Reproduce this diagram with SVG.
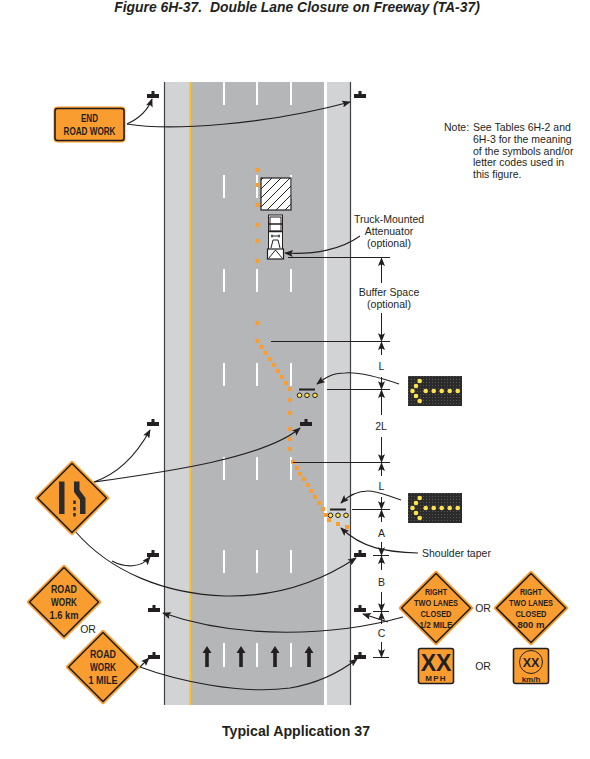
<svg xmlns="http://www.w3.org/2000/svg" width="590" height="759" viewBox="0 0 590 759">
<style>
text{font-family:"Liberation Sans",Arial,sans-serif;fill:#231f20}
.t{font-size:10.5px}
.c{text-anchor:middle}
.s{font-size:11.5px;font-weight:bold;text-anchor:middle;fill:#231f20}
.r{font-size:9.5px;font-weight:bold;text-anchor:middle;fill:#231f20}
.sign{fill:#f99d31;stroke:#231f20;stroke-width:1.6;stroke-linejoin:round}
.out{fill:#f99d31;stroke:#f99d31;stroke-width:3.4;stroke-linejoin:round}
.con{fill:none;stroke:#231f20;stroke-width:1.1}
.dim{stroke:#231f20;stroke-width:1;fill:none}
.dash{stroke:#fff;stroke-width:2;fill:none}
.cone{fill:#f99d31}
.led{fill:#fde34e;stroke:#231f20;stroke-width:1}
.lamp{fill:#fde34e}
</style>
<defs>
<marker id="a" viewBox="0 0 10 8" refX="9" refY="4" markerWidth="9" markerHeight="7" orient="auto" markerUnits="userSpaceOnUse"><path d="M0,0L10,4L0,8L2,4Z" fill="#231f20"/></marker>
<g id="post"><path d="M-1.5,-4H1.5V-1H6V3H-6V-1H-1.5Z" fill="#231f20"/></g>
<g id="dia"><path class="out" d="M0,-35.5L35.5,0L0,35.5L-35.5,0Z"/><path class="sign" d="M0,-34.5L34.5,0L0,34.5L-34.5,0Z"/></g>
<rect id="cone" x="-2" y="-2" width="4" height="4" class="cone"/>
<pattern id="dots" width="3" height="3" patternUnits="userSpaceOnUse"><rect width="1" height="1" fill="#555"/></pattern>
<g id="panel"><rect x="0" y="0" width="54" height="30" fill="#2b2b2b"/><rect x="0" y="0" width="54" height="30" fill="url(#dots)"/>
<g class="lamp"><circle cx="4.5" cy="15" r="2.3"/><circle cx="8" cy="10" r="2.3"/><circle cx="11.7" cy="5" r="2.3"/><circle cx="8" cy="20" r="2.3"/><circle cx="11.7" cy="25" r="2.3"/><circle cx="17.7" cy="15" r="2.3"/><circle cx="25.7" cy="15" r="2.3"/><circle cx="33.7" cy="15" r="2.3"/><circle cx="41.7" cy="15" r="2.3"/><circle cx="49.7" cy="15" r="2.3"/></g></g>
<pattern id="hatch" width="9" height="9" patternUnits="userSpaceOnUse"><path d="M-1,10L10,-1M-1,1L1,-1M8,10L10,8" stroke="#231f20" stroke-width="1" fill="none"/></pattern>
<g id="arr"><path d="M0,-10.5L4.5,-3.5H1.8V10.5H-1.8V-3.5H-4.5Z" fill="#231f20"/></g>
</defs>
<rect width="590" height="759" fill="#fff"/>

<text x="297" y="12" class="c" style="font-size:13.9px;font-weight:bold;font-style:italic" xml:space="preserve">Figure 6H-37.  Double Lane Closure on Freeway (TA-37)</text>

<g id="road">
<rect x="165" y="82" width="24" height="623" fill="#d1d3d4"/>
<rect x="191" y="82" width="133" height="623" fill="#b5b6b7"/>
<rect x="327" y="82" width="23" height="623" fill="#d1d3d4"/>
<rect x="189" y="82" width="2" height="623" fill="#fdc52f"/>
<path d="M164.5,82V705M350.5,82V705" stroke="#414042" stroke-width="1.2" fill="none"/>
<path class="dash" d="M224,82V105M257,82V105M291,82V105M224,175V198M257,175V198M291,175V198M224,269V292M257,269V292M291,269V292M224,363V386M257,363V386M291,363V386M224,457V480M257,457V480M291,457V480M224,550V573M257,550V573M291,550V573M224,643V667M257,643V667M291,643V667"/>
<g id="lane-arrows"><use href="#arr" x="207" y="656.5"/><use href="#arr" x="241" y="656.5"/><use href="#arr" x="275" y="656.5"/><use href="#arr" x="309" y="656.5"/></g>
</g>

<g id="work-area"><rect x="261" y="178" width="30" height="32" fill="#fff"/><rect x="261" y="178" width="30" height="32" fill="url(#hatch)" stroke="#231f20" stroke-width="1.2"/></g>

<g id="truck" fill="none" stroke="#231f20" stroke-width="1">
<rect x="268.5" y="215" width="14" height="37" fill="#fff"/>
<rect x="270" y="217" width="11" height="14" fill="#fff"/>
<path d="M268.5,224H282.5M268.5,231.5H282.5" stroke-width="1.4"/>
<path d="M271,236H280M272,234.5V237.5M279,234.5V237.5M271,248L273,240H278L280,248"/>
<rect x="267.5" y="249" width="16" height="10" fill="#fff" stroke-width="1.2"/>
<path d="M268.5,258.5L275.5,250L282.5,258.5"/>
</g>

<g id="cones">
<use href="#cone" x="257.5" y="170"/><use href="#cone" x="257.5" y="185"/><use href="#cone" x="257.5" y="205"/><use href="#cone" x="257.5" y="225"/><use href="#cone" x="257.5" y="241"/><use href="#cone" x="257.5" y="261"/>
<use href="#cone" x="257.5" y="323"/><use href="#cone" x="257.5" y="341"/><use href="#cone" x="261.5" y="347"/><use href="#cone" x="265.5" y="353"/><use href="#cone" x="269.5" y="359"/><use href="#cone" x="274" y="365"/><use href="#cone" x="278" y="371"/><use href="#cone" x="282" y="377"/><use href="#cone" x="286" y="383"/><use href="#cone" x="290" y="389"/>
<use href="#cone" x="290" y="400"/><use href="#cone" x="290" y="413"/><use href="#cone" x="290" y="429"/><use href="#cone" x="290" y="439"/><use href="#cone" x="290" y="449"/>
<use href="#cone" x="293" y="462"/><use href="#cone" x="297" y="468"/><use href="#cone" x="300" y="474"/><use href="#cone" x="304" y="479"/><use href="#cone" x="308" y="485"/><use href="#cone" x="311" y="491"/><use href="#cone" x="315" y="497"/><use href="#cone" x="319" y="503"/><use href="#cone" x="323" y="509"/><use href="#cone" x="326" y="515"/><use href="#cone" x="329" y="520"/><use href="#cone" x="338" y="524"/><use href="#cone" x="347" y="527"/>
</g>

<g id="arrow-board-1"><path d="M299,389.5H315" stroke="#231f20" stroke-width="2"/><circle class="led" cx="299.5" cy="395.3" r="2.3"/><circle class="led" cx="307" cy="395.3" r="2.3"/><circle class="led" cx="315" cy="395.3" r="2.3"/></g>
<g id="arrow-board-2"><path d="M330,509.5H346" stroke="#231f20" stroke-width="2"/><circle class="led" cx="330.5" cy="515.3" r="2.3"/><circle class="led" cx="338" cy="515.3" r="2.3"/><circle class="led" cx="346" cy="515.3" r="2.3"/></g>

<g id="posts">
<use href="#post" x="153" y="95"/><use href="#post" x="360" y="95"/>
<use href="#post" x="153" y="423"/><use href="#post" x="306" y="423"/>
<use href="#post" x="153" y="554"/><use href="#post" x="360" y="554"/>
<use href="#post" x="154" y="609"/><use href="#post" x="360" y="609"/>
<use href="#post" x="154" y="656"/><use href="#post" x="360" y="656"/>
</g>

<g id="connectors">
<path class="con" marker-end="url(#a)" d="M127,124C140,118 148,110 152,99"/>
<path class="con" marker-end="url(#a)" d="M127,124C170,131 265,125 350,102"/>
<path class="con" marker-end="url(#a)" d="M360,236C342,249 315,255 285,253"/>
<path class="con" marker-end="url(#a)" d="M399,384C375,376 355,372 345,373C332,373 325,378 317,384"/>
<path class="con" marker-end="url(#a)" d="M401,500C385,495 378,491 368,491C357,491 348,496 341,503"/>
<path class="con" marker-end="url(#a)" d="M418,553C385,552 362,548 341,528"/>
<path class="con" marker-end="url(#a)" d="M94,482C120,473 138,452 150,430"/>
<path class="con" marker-end="url(#a)" d="M94,482C165,472 265,458 300,428"/>
<path class="con" marker-end="url(#a)" d="M75,531C110,572 165,594 225,596C275,597 320,582 356,558"/>
<path class="con" marker-end="url(#a)" d="M112,561C125,568 141,568 150,557"/>
<path class="con" marker-end="url(#a)" d="M403,617C335,636 240,640 163,613"/>
<path class="con" marker-end="url(#a)" d="M388,622L363,614"/>
<path class="con" marker-end="url(#a)" d="M140,667L149,658"/>
<path class="con" marker-end="url(#a)" d="M140,667C175,680 240,695 290,688C320,683 340,672 357,659"/>
</g>

<g id="dimensions">
<path class="dim" d="M288,257.5H390M271,341.5H390M327,389.5H390M293,462.5H390M352,509.5H390M373,555.5H389M373,611.5H389M373,657.5H389"/>
<path class="dim" marker-end="url(#a)" d="M381.5,283V258"/>
<path class="dim" marker-end="url(#a)" d="M381.5,313V341"/>
<path class="dim" marker-end="url(#a)" d="M381.5,355V342"/>
<path class="dim" marker-end="url(#a)" d="M381.5,377V389"/>
<path class="dim" marker-end="url(#a)" d="M381.5,415V390"/>
<path class="dim" marker-end="url(#a)" d="M381.5,437V462"/>
<path class="dim" marker-end="url(#a)" d="M381.5,476V463"/>
<path class="dim" marker-end="url(#a)" d="M381.5,497V509"/>
<path class="dim" marker-end="url(#a)" d="M381.5,522V510"/>
<path class="dim" marker-end="url(#a)" d="M381.5,542V555"/>
<path class="dim" marker-end="url(#a)" d="M381.5,570V556"/>
<path class="dim" marker-end="url(#a)" d="M381.5,592V611"/>
<path class="dim" marker-end="url(#a)" d="M381.5,624V612"/>
<path class="dim" marker-end="url(#a)" d="M381.5,642V657"/>
</g>

<g id="dim-labels">
<text x="389" y="296" class="t c">Buffer Space</text><text x="389" y="308" class="t c">(optional)</text>
<text x="381.5" y="370" class="t c">L</text><text x="381" y="430" class="t c">2L</text><text x="381.5" y="490" class="t c">L</text>
<text x="381.5" y="537" class="t c">A</text><text x="381.5" y="586" class="t c">B</text><text x="381.5" y="637" class="t c">C</text>
<text x="389" y="223" class="t c">Truck-Mounted</text><text x="389" y="235" class="t c">Attenuator</text><text x="389" y="247" class="t c">(optional)</text>
<text x="422" y="557" class="t">Shoulder taper</text>
</g>

<g id="note">
<text x="444" y="131" class="t">Note:</text><text x="473" y="131" class="t">See Tables 6H-2 and</text>
<text x="473" y="143" class="t">6H-3 for the meaning</text><text x="473" y="155" class="t">of the symbols and/or</text>
<text x="473" y="166" class="t">letter codes used in</text><text x="473" y="178" class="t">this figure.</text>
</g>

<g id="sign-end"><rect x="54.5" y="107.5" width="70" height="34" rx="3" fill="#f99d31" stroke="#f99d31" stroke-width="2"/><rect x="55" y="108.5" width="69" height="32" rx="2.5" class="sign"/>
<text x="89.5" y="122" class="s" textLength="17" lengthAdjust="spacingAndGlyphs">END</text><text x="89.5" y="135" class="s" textLength="52" lengthAdjust="spacingAndGlyphs">ROAD WORK</text></g>

<g id="panel-1"><use href="#panel" x="408" y="376"/></g>
<g id="panel-2"><use href="#panel" x="408" y="493"/></g>

<g id="sign-merge"><use href="#dia" x="72" y="498"/>
<path d="M59,481.5H64.5V514H59Z" fill="#2b2b2b"/><path d="M74,481.5H79.5V490L85.5,498V514H80V500L74,492Z" fill="#2b2b2b"/>
<path d="M74.5,500.5V504M74.5,507V510.5M74.5,513V516.5" stroke="#2b2b2b" stroke-width="2.5" fill="none"/></g>

<g id="sign-16km"><use href="#dia" x="64" y="602"/><text x="64" y="592.5" class="s" textLength="26" lengthAdjust="spacingAndGlyphs">ROAD</text><text x="64" y="605.5" class="s" textLength="26" lengthAdjust="spacingAndGlyphs">WORK</text><text x="64" y="618.5" class="s" textLength="29" lengthAdjust="spacingAndGlyphs">1.6 km</text></g>
<text id="or-left" x="88" y="633" class="t c">OR</text>
<g id="sign-1mile"><use href="#dia" x="103" y="667"/><text x="103" y="658" class="s" textLength="26" lengthAdjust="spacingAndGlyphs">ROAD</text><text x="103" y="671" class="s" textLength="26" lengthAdjust="spacingAndGlyphs">WORK</text><text x="103" y="684" class="s" textLength="29" lengthAdjust="spacingAndGlyphs">1 MILE</text></g>

<g id="sign-half"><use href="#dia" x="436" y="608"/><text x="436" y="595" class="r" textLength="22" lengthAdjust="spacingAndGlyphs">RIGHT</text><text x="436" y="606" class="r" textLength="44" lengthAdjust="spacingAndGlyphs">TWO LANES</text><text x="436" y="617" class="r" textLength="31" lengthAdjust="spacingAndGlyphs">CLOSED</text><text x="436" y="628" class="r" textLength="33" lengthAdjust="spacingAndGlyphs">1/2 MILE</text></g>
<text id="or-right1" x="483" y="612" class="t c">OR</text>
<g id="sign-800"><use href="#dia" x="531" y="608"/><text x="531" y="595" class="r" textLength="22" lengthAdjust="spacingAndGlyphs">RIGHT</text><text x="531" y="606" class="r" textLength="44" lengthAdjust="spacingAndGlyphs">TWO LANES</text><text x="531" y="617" class="r" textLength="31" lengthAdjust="spacingAndGlyphs">CLOSED</text><text x="531" y="628" class="r" textLength="27" lengthAdjust="spacingAndGlyphs">800 m</text></g>

<g id="sign-mph"><rect x="418.5" y="648.5" width="35" height="35" rx="2" class="sign"/><text x="436" y="670.5" style="font-size:23px;font-weight:bold" class="c">XX</text><text x="436" y="681" style="font-size:8px;font-weight:bold;letter-spacing:1.2px" class="c">MPH</text></g>
<text id="or-right2" x="483" y="670" class="t c">OR</text>
<g id="sign-kmh"><rect x="513.5" y="648.5" width="35" height="35" rx="2" class="sign"/><circle cx="531" cy="662" r="11.5" fill="none" stroke="#231f20" stroke-width="1"/><text x="531" y="666.5" style="font-size:12.5px;font-weight:bold" class="c">XX</text><text x="531" y="682" style="font-size:8px;font-weight:bold" class="c">km/h</text></g>

<text x="296" y="736" class="c" style="font-size:14.2px;font-weight:bold">Typical Application 37</text>
</svg>
